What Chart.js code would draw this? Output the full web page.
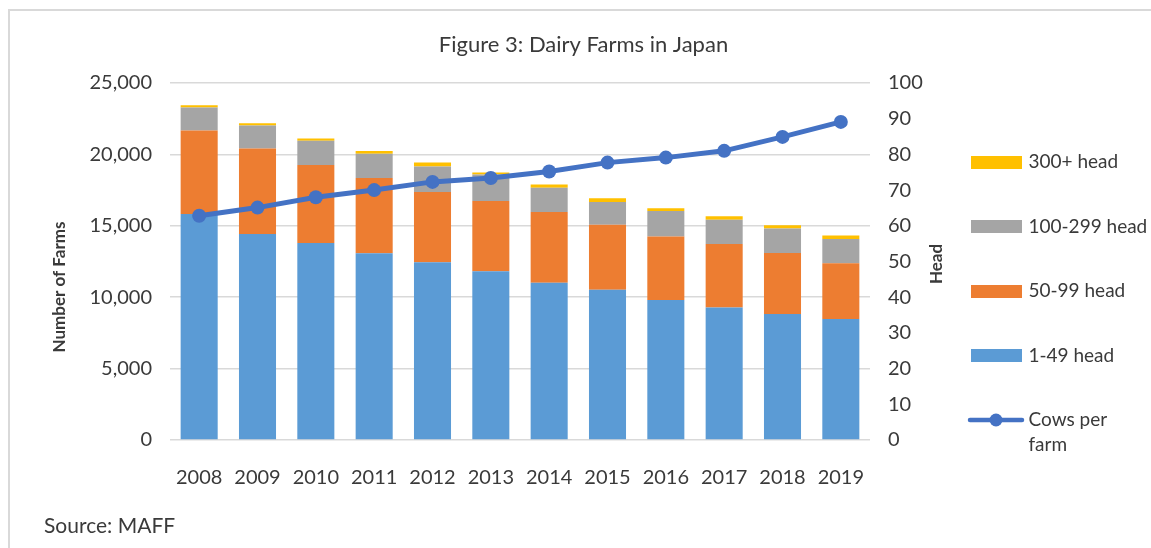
<!DOCTYPE html>
<html>
<head>
<meta charset="utf-8">
<script src="https://cdn.jsdelivr.net/npm/chart.js@4.4.1/dist/chart.umd.min.js"></script>
<style>
  html, body { margin: 0; padding: 0; background: #ffffff; }
  body { width: 1151px; height: 548px; position: relative; overflow: hidden; font-family: Lato, "Open Sans", sans-serif; }
  #frame { position: absolute; left: 8px; top: 9px; width: 1200px; height: 600px; border-top: 2px solid #d9d9d9; border-left: 2px solid #d9d9d9; }
  #wrap { position: absolute; left: 0; top: 0; width: 1151px; height: 548px; }
  #source { position: absolute; left: 44px; top: 511px; font-size: 21px; line-height: 28px; color: #3a3a3a; font-family: Lato, sans-serif; }
</style>
</head>
<body>
<div id="frame"></div>
<div id="wrap"><canvas id="c" width="1151" height="548"></canvas></div>
<div id="source">Source: MAFF</div>
<script>
// ---- data ----
const years = ['2008','2009','2010','2011','2012','2013','2014','2015','2016','2017','2018','2019'];
const head1to49    = [15820, 14420, 13790, 13070, 12440, 11810, 11020, 10530, 9810, 9270, 8830, 8470];
const head50to99   = [5860, 6000, 5460, 5280, 4930, 4930, 4940, 4540, 4440, 4450, 4260, 3900];
const head100to299 = [1600, 1600, 1700, 1700, 1790, 1860, 1700, 1600, 1790, 1700, 1720, 1700];
const head300plus  = [160, 160, 170, 190, 280, 140, 230, 260, 190, 255, 237, 251];
const cowsPerFarm  = [62.8, 65.1, 68.0, 70.0, 72.3, 73.4, 75.2, 77.7, 79.1, 81.0, 84.9, 89.1];
const seriesNames  = ['1-49 head', '50-99 head', '100-299 head', '300+ head'];
const lineName     = ['Cows per', 'farm'];
const leftTicks    = { min: 0, max: 25000, step: 5000 };
const rightTicks   = { min: 0, max: 100, step: 10 };

const FONT = 'Lato';
const TXT = '#3a3a3a';
const colors = ['#5B9BD5', '#ED7D31', '#A5A5A5', '#FFC000'];
const lineColor = '#4472C4';

function boxImg(color) {
  const c = document.createElement('canvas');
  c.width = 51; c.height = 13;
  const g = c.getContext('2d');
  g.fillStyle = color; g.fillRect(0, 0, 51, 13);
  return c;
}
function lineImg(color) {
  const c = document.createElement('canvas');
  c.width = 58; c.height = 16;
  const g = c.getContext('2d');
  g.strokeStyle = color; g.lineWidth = 4.5; g.lineCap = 'round';
  g.beginPath(); g.moveTo(3, 8); g.lineTo(55, 8); g.stroke();
  g.fillStyle = color; g.beginPath(); g.arc(29, 8, 6.5, 0, Math.PI * 2); g.fill();
  return c;
}

const barData = [head1to49, head50to99, head100to299, head300plus];
const datasets = barData.map((d, i) => ({
  type: 'bar',
  label: seriesNames[i],
  data: d,
  backgroundColor: colors[i],
  borderWidth: 0,
  yAxisID: 'y',
  stack: 'farms',
  order: 1,
  barPercentage: 0.635,
  categoryPercentage: 1.0
}));
datasets.push({
  type: 'line',
  label: lineName.join(' '),
  data: cowsPerFarm,
  yAxisID: 'y1',
  borderColor: lineColor,
  backgroundColor: lineColor,
  borderWidth: 5,
  pointRadius: 7,
  pointHoverRadius: 7,
  pointBorderWidth: 0,
  pointBackgroundColor: lineColor,
  tension: 0,
  order: 0
});

const axisTitlePlugin = {
  id: 'axisTitles',
  afterDraw(chart) {
    const ctx = chart.ctx;
    ctx.save();
    ctx.fillStyle = TXT;
    ctx.font = 'bold 17px ' + FONT;
    ctx.textAlign = 'center';
    ctx.textBaseline = 'middle';
    ctx.translate(60, 287);
    ctx.rotate(-Math.PI / 2);
    ctx.fillText('Number of Farms', 0, 0);
    ctx.restore();
    ctx.save();
    ctx.fillStyle = TXT;
    ctx.font = 'bold 17px ' + FONT;
    ctx.textAlign = 'center';
    ctx.textBaseline = 'middle';
    ctx.translate(937, 264);
    ctx.rotate(-Math.PI / 2);
    ctx.fillText('Head', 0, 0);
    ctx.restore();
  }
};

new Chart(document.getElementById('c'), {
  data: { labels: years, datasets },
  options: {
    responsive: false,
    animation: false,
    devicePixelRatio: 1,
    layout: { padding: { left: 16, right: 0, top: 0, bottom: 0 } },
    plugins: {
      title: {
        display: true,
        text: 'Figure 3: Dairy Farms in Japan',
        color: TXT,
        font: { family: FONT, size: 22, weight: 'normal', lineHeight: 1.2 },
        padding: { top: 31.8, bottom: 24.8 }
      },
      legend: {
        position: 'right',
        align: 'start',
        maxWidth: 223.5,
        title: { display: true, text: ' ', font: { family: FONT, size: 18, lineHeight: 1.2 }, padding: { top: 85.4, bottom: 0 } },
        labels: {
          usePointStyle: true,
          pointStyleWidth: 46,
          padding: 45.5,
          color: TXT,
          font: { family: FONT, size: 19, lineHeight: 1.32 },
          generateLabels(chart) {
            const items = [];
            for (let i = 3; i >= 0; i--) {
              items.push({ text: seriesNames[i], fillStyle: colors[i], strokeStyle: colors[i], lineWidth: 0, pointStyle: boxImg(colors[i]), datasetIndex: i, hidden: false, fontColor: TXT });
            }
            items.push({ text: lineName, fillStyle: lineColor, strokeStyle: lineColor, lineWidth: 0, pointStyle: lineImg(lineColor), datasetIndex: 4, hidden: false, fontColor: TXT });
            return items;
          }
        }
      },
      tooltip: { enabled: false }
    },
    scales: {
      x: {
        stacked: true,
        grid: { display: false },
        border: { display: false },
        ticks: { color: TXT, font: { family: FONT, size: 20 }, padding: 18, maxRotation: 0, autoSkip: false },
        afterFit(s) { s.height = 108; }
      },
      y: {
        position: 'left',
        stacked: true,
        min: leftTicks.min, max: leftTicks.max,
        ticks: { stepSize: leftTicks.step, color: TXT, font: { family: FONT, size: 20 }, padding: 18 },
        grid: { color: '#d9d9d9', lineWidth: 1.5, drawTicks: false },
        border: { display: false },
        afterFit(s) { s.width = 154; }
      },
      y1: {
        position: 'right',
        min: rightTicks.min, max: rightTicks.max,
        ticks: { stepSize: rightTicks.step, color: TXT, font: { family: FONT, size: 20 }, padding: 18 },
        grid: { display: false, drawTicks: false },
        border: { display: false },
        afterFit(s) {
          const lw = (s.chart.legend && s.chart.legend.width) ? s.chart.legend.width : 223.5;
          s.width = s.chart.width - lw - 870;
        }
      }
    }
  },
  plugins: [axisTitlePlugin]
});
</script>
</body>
</html>
